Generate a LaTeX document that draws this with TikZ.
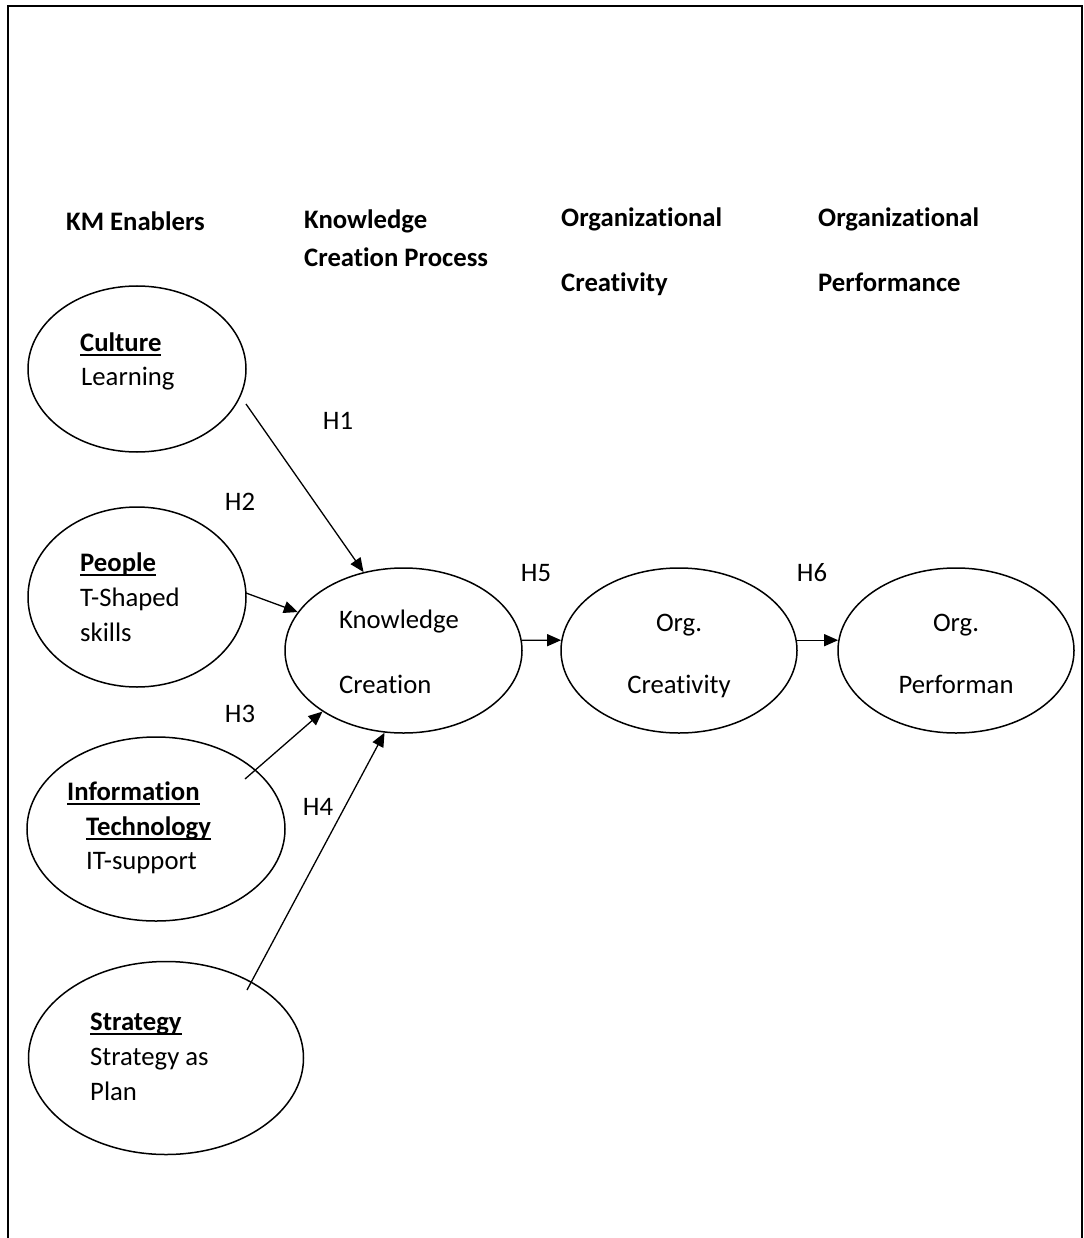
\documentclass[tikz,border=0pt]{standalone}
\usepackage{fontspec}
\setmainfont{Carlito}[Ligatures=NoCommon]
\usetikzlibrary{shapes.geometric,arrows.meta}
\newcommand\ulbox[1]{\leavevmode\setbox0=\hbox{#1}\rlap{\rule[-4.5pt]{\wd0}{2pt}}\box0}
\tikzset{
  ell/.style={draw, ellipse, line width=1.5pt, inner sep=0pt},
  txt/.style={inner sep=0pt, anchor=base west, font=\fontsize{26.7}{32}\selectfont},
  ctxt/.style={inner sep=0pt, anchor=base, font=\fontsize{26.7}{32}\selectfont},
  btxt/.style={txt, font=\fontsize{26.7}{32}\selectfont\bfseries},
  hyp/.style={line width=1.3pt, -{Triangle[length=14pt,width=12pt]}},
  frame/.style={line width=2pt}
}
\begin{document}
\begin{tikzpicture}[x=1pt,y=-1pt]
\useasboundingbox (0,0) rectangle (1083,1238);
% frame
\coordinate (fbl) at (8,1238);
\coordinate (ftl) at (8,6);
\coordinate (ftr) at (1082,6);
\coordinate (fbr) at (1082,1238);
\draw[frame] (fbl) -- (ftl) -- (ftr) -- (fbr);

% headers
\node[btxt] (hkm) at (66,230.5) {KM Enablers};
\node[btxt] (hkca) at (304,228.5) {Knowledge};
\node[btxt] (hkcb) at (304,266.5) {Creation Process};
\node[btxt] (hoca) at (561,226.5) {Organizational};
\node[btxt] (hocb) at (561,291.5) {Creativity};
\node[btxt] (hopa) at (818,226.5) {Organizational};
\node[btxt] (hopb) at (818,291.5) {Performance};

% ellipses
\node[ell, minimum width=218pt, minimum height=166pt] (culture) at (137,369) {};
\node[ell, minimum width=218pt, minimum height=180pt] (people) at (137,597) {};
\node[ell, minimum width=258pt, minimum height=184pt] (it) at (156,829) {};
\node[ell, minimum width=275pt, minimum height=193pt] (strategy) at (166,1058) {};
\node[ell, minimum width=237pt, minimum height=165pt] (kc) at (403.5,650.5) {};
\node[ell, minimum width=236pt, minimum height=165pt] (oc) at (679,650.5) {};
\node[ell, minimum width=236pt, minimum height=165pt] (op) at (956,650.5) {};

% arrow starts
\coordinate (h1s) at (246,404);
\coordinate (h2s) at (246,593);
\coordinate (h3s) at (245,779);
\coordinate (h4s) at (247,990);

\draw[hyp] (h1s) -- (kc.117);
\draw[hyp] (h2s) -- (kc.160);
\draw[hyp] (h3s) -- (kc.217);
\draw[hyp] (h4s) -- (kc.257);
\draw[hyp] (kc.5) -- (oc.175);
\draw[hyp] (oc.5) -- (op.175);

% texts in ellipses
\node[btxt] (tcula) at (80,351.5) {\ulbox{Culture}};
\node[txt] (tculb) at (81,385.5) {Learning};
\node[btxt] (tpeoa) at (80,571.5) {\ulbox{People}};
\node[txt] (tpeob) at (80,606.5) {T-Shaped};
\node[txt] (tpeoc) at (80,641.5) {skills};
\node[btxt] (tita) at (67,800.5) {\ulbox{Information}};
\node[btxt] (titb) at (86,835.5) {\ulbox{Technology}};
\node[txt] (titc) at (86,869.5) {IT-support};
\node[btxt] (tstra) at (90,1030.5) {\ulbox{Strategy}};
\node[txt] (tstrb) at (90,1065.5) {Strategy as};
\node[txt] (tstrc) at (90,1100.5) {Plan};
\node[txt] (tkca) at (339,628.5) {Knowledge};
\node[txt] (tkcb) at (339,693.5) {Creation};
\node[ctxt] (toca) at (679,631.5) {Org.};
\node[ctxt] (tocb) at (679,693.5) {Creativity};
\node[ctxt] (topa) at (956,631.5) {Org.};
\node[ctxt] (topb) at (956,693.5) {Performan};

% hypothesis labels
\node[ctxt] (lh1) at (338,429.5) {H1};
\node[ctxt] (lh2) at (240,510.5) {H2};
\node[ctxt] (lh3) at (240,722.5) {H3};
\node[ctxt] (lh4) at (318,815.5) {H4};
\node[ctxt] (lh5) at (536,581.5) {H5};
\node[ctxt] (lh6) at (812,581.5) {H6};
\end{tikzpicture}
\end{document}
